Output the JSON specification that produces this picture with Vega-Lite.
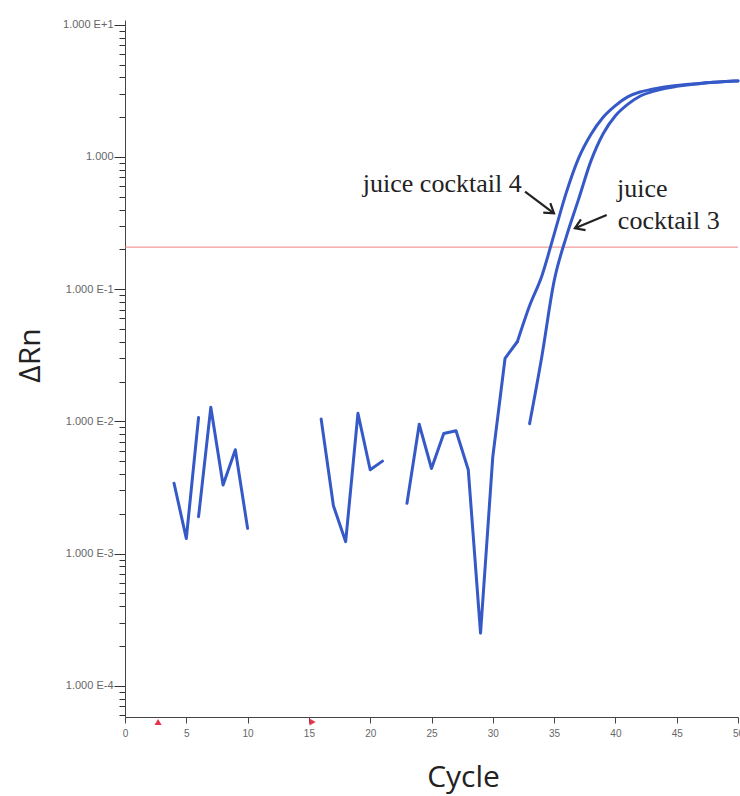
{
  "$schema": "https://vega.github.io/schema/vega-lite/v6.json",
  "width": 613,
  "height": 697,
  "autosize": "none",
  "padding": {"left": 125, "top": 20, "right": 2, "bottom": 79},
  "background": "white",
  "config": {"view": {"stroke": null}, "axis": {"grid": false}},
  "datasets": {
    "curves": [
      {"cycle": 4, "value": 0.0034, "series": "juice cocktail 4", "segment": "a"},
      {"cycle": 5, "value": 0.0013, "series": "juice cocktail 4", "segment": "a"},
      {"cycle": 6, "value": 0.0107, "series": "juice cocktail 4", "segment": "a"},
      {"cycle": 6, "value": 0.0019, "series": "juice cocktail 3", "segment": "b"},
      {"cycle": 7, "value": 0.0128, "series": "juice cocktail 3", "segment": "b"},
      {"cycle": 8, "value": 0.0033, "series": "juice cocktail 3", "segment": "b"},
      {"cycle": 9, "value": 0.0061, "series": "juice cocktail 3", "segment": "b"},
      {"cycle": 10, "value": 0.00155, "series": "juice cocktail 3", "segment": "b"},
      {"cycle": 16, "value": 0.0104, "series": "juice cocktail 3", "segment": "c"},
      {"cycle": 17, "value": 0.0023, "series": "juice cocktail 3", "segment": "c"},
      {"cycle": 18, "value": 0.00123, "series": "juice cocktail 3", "segment": "c"},
      {"cycle": 19, "value": 0.0115, "series": "juice cocktail 3", "segment": "c"},
      {"cycle": 20, "value": 0.0043, "series": "juice cocktail 3", "segment": "c"},
      {"cycle": 21, "value": 0.005, "series": "juice cocktail 3", "segment": "c"},
      {"cycle": 23, "value": 0.0024, "series": "juice cocktail 4", "segment": "d1"},
      {"cycle": 24, "value": 0.0095, "series": "juice cocktail 4", "segment": "d1"},
      {"cycle": 25, "value": 0.0044, "series": "juice cocktail 4", "segment": "d1"},
      {"cycle": 26, "value": 0.0081, "series": "juice cocktail 4", "segment": "d1"},
      {"cycle": 27, "value": 0.0085, "series": "juice cocktail 4", "segment": "d1"},
      {"cycle": 28, "value": 0.0043, "series": "juice cocktail 4", "segment": "d1"},
      {"cycle": 29, "value": 0.00025, "series": "juice cocktail 4", "segment": "d1"},
      {"cycle": 30, "value": 0.0054, "series": "juice cocktail 4", "segment": "d1"},
      {"cycle": 31, "value": 0.030, "series": "juice cocktail 4", "segment": "d1"},
      {"cycle": 32, "value": 0.040, "series": "juice cocktail 4", "segment": "d1"},
      {"cycle": 32, "value": 0.040, "series": "juice cocktail 4", "segment": "d2"},
      {"cycle": 33, "value": 0.075, "series": "juice cocktail 4", "segment": "d2"},
      {"cycle": 34, "value": 0.126, "series": "juice cocktail 4", "segment": "d2"},
      {"cycle": 35, "value": 0.26, "series": "juice cocktail 4", "segment": "d2"},
      {"cycle": 36, "value": 0.54, "series": "juice cocktail 4", "segment": "d2"},
      {"cycle": 37, "value": 0.98, "series": "juice cocktail 4", "segment": "d2"},
      {"cycle": 38, "value": 1.48, "series": "juice cocktail 4", "segment": "d2"},
      {"cycle": 39, "value": 2.0, "series": "juice cocktail 4", "segment": "d2"},
      {"cycle": 40, "value": 2.45, "series": "juice cocktail 4", "segment": "d2"},
      {"cycle": 41, "value": 2.85, "series": "juice cocktail 4", "segment": "d2"},
      {"cycle": 42, "value": 3.1, "series": "juice cocktail 4", "segment": "d2"},
      {"cycle": 43, "value": 3.25, "series": "juice cocktail 4", "segment": "d2"},
      {"cycle": 44, "value": 3.38, "series": "juice cocktail 4", "segment": "d2"},
      {"cycle": 45, "value": 3.47, "series": "juice cocktail 4", "segment": "d2"},
      {"cycle": 46, "value": 3.55, "series": "juice cocktail 4", "segment": "d2"},
      {"cycle": 47, "value": 3.62, "series": "juice cocktail 4", "segment": "d2"},
      {"cycle": 48, "value": 3.67, "series": "juice cocktail 4", "segment": "d2"},
      {"cycle": 49, "value": 3.72, "series": "juice cocktail 4", "segment": "d2"},
      {"cycle": 50, "value": 3.76, "series": "juice cocktail 4", "segment": "d2"},
      {"cycle": 33, "value": 0.0096, "series": "juice cocktail 3", "segment": "e"},
      {"cycle": 34, "value": 0.031, "series": "juice cocktail 3", "segment": "e"},
      {"cycle": 35, "value": 0.115, "series": "juice cocktail 3", "segment": "e"},
      {"cycle": 36, "value": 0.25, "series": "juice cocktail 3", "segment": "e"},
      {"cycle": 37, "value": 0.48, "series": "juice cocktail 3", "segment": "e"},
      {"cycle": 38, "value": 0.93, "series": "juice cocktail 3", "segment": "e"},
      {"cycle": 39, "value": 1.5, "series": "juice cocktail 3", "segment": "e"},
      {"cycle": 40, "value": 2.05, "series": "juice cocktail 3", "segment": "e"},
      {"cycle": 41, "value": 2.5, "series": "juice cocktail 3", "segment": "e"},
      {"cycle": 42, "value": 2.88, "series": "juice cocktail 3", "segment": "e"},
      {"cycle": 43, "value": 3.12, "series": "juice cocktail 3", "segment": "e"},
      {"cycle": 44, "value": 3.3, "series": "juice cocktail 3", "segment": "e"},
      {"cycle": 45, "value": 3.42, "series": "juice cocktail 3", "segment": "e"},
      {"cycle": 46, "value": 3.52, "series": "juice cocktail 3", "segment": "e"},
      {"cycle": 47, "value": 3.6, "series": "juice cocktail 3", "segment": "e"},
      {"cycle": 48, "value": 3.67, "series": "juice cocktail 3", "segment": "e"},
      {"cycle": 49, "value": 3.72, "series": "juice cocktail 3", "segment": "e"},
      {"cycle": 50, "value": 3.76, "series": "juice cocktail 3", "segment": "e"}
    ],
    "threshold": [{"value": 0.208}],
    "labels": [
      {"cycle": 19.4, "value": 0.5435, "label": "juice cocktail 4"},
      {"cycle": 40.13, "value": 0.498, "label": "juice"},
      {"cycle": 40.2, "value": 0.2853, "label": "cocktail 3"}
    ],
    "arrows": [
      {"id": "a4", "cycle": 32.63, "value": 0.546, "cycle2": 34.99, "value2": 0.375},
      {"id": "a3", "cycle": 39.29, "value": 0.364, "cycle2": 36.7, "value2": 0.289}
    ],
    "markers": [
      {"id": "start", "cycle": 2.7},
      {"id": "end", "cycle": 15.3}
    ]
  },
  "layer": [
    {
      "data": {"name": "threshold"},
      "mark": {"type": "rule", "color": "#f08080", "strokeWidth": 1},
      "encoding": {
        "y": {"field": "value", "type": "quantitative", "scale": {"type": "log", "domain": [0.000058, 10.87], "nice": false}}
      }
    },
    {
      "data": {"name": "curves"},
      "transform": [{"filter": "datum.segment != 'd2' && datum.segment != 'e'"}],
      "mark": {"type": "line", "color": "#3559c7", "strokeWidth": 3, "strokeJoin": "round", "strokeCap": "round"},
      "encoding": {
        "x": {
          "field": "cycle", "type": "quantitative",
          "scale": {"domain": [0, 50], "nice": false, "zero": false},
          "axis": {
            "values": [0, 5, 10, 15, 20, 25, 30, 35, 40, 45, 50],
            "title": "Cycle", "titleFont": "Open Sans", "titleFontSize": 30, "titleFontWeight": "normal", "titleColor": "#222",
            "titleX": 338, "titleY": 69, "titleBaseline": "alphabetic", "titleAlign": "center",
            "labelFont": "Liberation Sans", "labelFontSize": 10, "labelColor": "#666", "labelPadding": 5, "labelFlush": false,
            "tickSize": 6, "tickColor": "#444", "domainColor": "#444"
          }
        },
        "y": {
          "field": "value", "type": "quantitative",
          "scale": {"type": "log", "domain": [0.000058, 10.87], "nice": false},
          "axis": {
            "values": [0.00006, 0.00007, 0.00008, 0.00009, 0.0001, 0.0002, 0.0003, 0.0004, 0.0005, 0.0006, 0.0007, 0.0008, 0.0009, 0.001, 0.002, 0.003, 0.004, 0.005, 0.006, 0.007, 0.008, 0.009, 0.01, 0.02, 0.03, 0.04, 0.05, 0.06, 0.07, 0.08, 0.09, 0.1, 0.2, 0.3, 0.4, 0.5, 0.6, 0.7, 0.8, 0.9, 1, 2, 3, 4, 5, 6, 7, 8, 9, 10],
            "labelExpr": "abs(log(datum.value)/LN10 - round(log(datum.value)/LN10)) < 0.001 ? (round(log(datum.value)/LN10) == 0 ? '1.000' : '1.000 E' + (round(log(datum.value)/LN10) > 0 ? '+' : '') + round(log(datum.value)/LN10)) : ''",
            "labelOverlap": false,
            "labelFont": "Liberation Sans", "labelFontSize": 11, "labelColor": "#666", "labelPadding": 1,
            "tickSize": {"condition": {"test": "abs(log(datum.value)/LN10 - round(log(datum.value)/LN10)) < 0.001", "value": 11}, "value": 6},
            "tickColor": "#333", "domainColor": "#444",
            "title": "ΔRn", "titleFont": "Open Sans", "titleFontSize": 30, "titleFontWeight": "normal", "titleColor": "#222",
            "titleX": -95, "titleY": 335, "titleAlign": "center", "titleBaseline": "middle"
          }
        },
        "detail": {"field": "segment", "type": "nominal"}
      }
    },
    {
      "data": {"name": "curves"},
      "transform": [{"filter": "datum.segment == 'd2' || datum.segment == 'e'"}],
      "mark": {"type": "line", "color": "#3559c7", "strokeWidth": 3, "strokeJoin": "round", "strokeCap": "round", "interpolate": "monotone"},
      "encoding": {
        "x": {"field": "cycle", "type": "quantitative"},
        "y": {"field": "value", "type": "quantitative"},
        "detail": {"field": "segment", "type": "nominal"}
      }
    },
    {
      "data": {"name": "labels"},
      "mark": {"type": "text", "font": "Liberation Serif", "fontSize": 26, "color": "#222", "align": "left", "baseline": "alphabetic"},
      "encoding": {
        "x": {"field": "cycle", "type": "quantitative"},
        "y": {"field": "value", "type": "quantitative"},
        "text": {"field": "label"}
      }
    },
    {
      "data": {"name": "arrows"},
      "mark": {"type": "rule", "color": "#222", "strokeWidth": 2.2},
      "encoding": {
        "x": {"field": "cycle", "type": "quantitative"},
        "y": {"field": "value", "type": "quantitative"},
        "x2": {"field": "cycle2"},
        "y2": {"field": "value2"}
      }
    },
    {
      "data": {"name": "arrows"},
      "transform": [{"filter": "datum.id == 'a4'"}],
      "mark": {"type": "point", "shape": "M-1,-0.65L0,0L-1,0.65", "filled": false, "stroke": "#222", "strokeWidth": 2.2, "size": 324, "angle": 37, "opacity": 1},
      "encoding": {
        "x": {"field": "cycle2", "type": "quantitative"},
        "y": {"field": "value2", "type": "quantitative"}
      }
    },
    {
      "data": {"name": "arrows"},
      "transform": [{"filter": "datum.id == 'a3'"}],
      "mark": {"type": "point", "shape": "M-1,-0.65L0,0L-1,0.65", "filled": false, "stroke": "#222", "strokeWidth": 2.2, "size": 324, "angle": 157, "opacity": 1},
      "encoding": {
        "x": {"field": "cycle2", "type": "quantitative"},
        "y": {"field": "value2", "type": "quantitative"}
      }
    },
    {
      "data": {"name": "markers"},
      "transform": [{"filter": "datum.id == 'start'"}],
      "mark": {"type": "point", "shape": "triangle-up", "filled": true, "color": "#e8344a", "size": 50, "yOffset": 5, "opacity": 1},
      "encoding": {
        "x": {"field": "cycle", "type": "quantitative"},
        "y": {"datum": 0.000058, "type": "quantitative"}
      }
    },
    {
      "data": {"name": "markers"},
      "transform": [{"filter": "datum.id == 'end'"}],
      "mark": {"type": "point", "shape": "triangle-right", "filled": true, "color": "#e8344a", "size": 50, "yOffset": 5, "opacity": 1},
      "encoding": {
        "x": {"field": "cycle", "type": "quantitative"},
        "y": {"datum": 0.000058, "type": "quantitative"}
      }
    }
  ]
}
